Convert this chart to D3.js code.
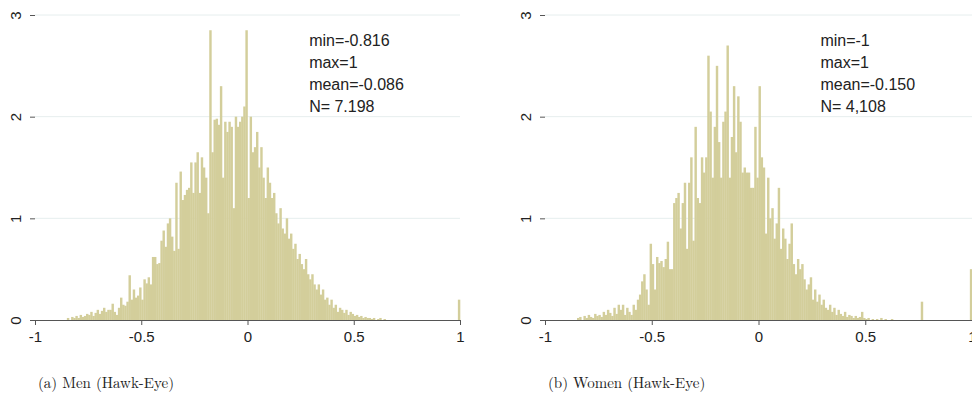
<!DOCTYPE html>
<html><head><meta charset="utf-8">
<script src="https://cdn.jsdelivr.net/npm/d3@7"></script>
<style>body{margin:0;background:#fff}</style></head>
<body><svg id="c" width="972" height="403"></svg>
<script>
// bins of width 0.01, starting at -0.85
const binStart = -0.85;
const binWidth = 0.01;
const menValues = [
  0.02,0,0.03,0.02,0.04,0.02,0.05,0.03,0.04,0.06,
  0.05,0.08,0.04,0.07,0.1,0.06,0.09,0.12,0.08,0.1,
  0.1,0.16,0.08,0.05,0.12,0.22,0.15,0.14,0.18,0.44,
  0.2,0.3,0.22,0.24,0.32,0.2,0.4,0.36,0.42,0.35,
  0.62,0.62,0.55,0.56,0.78,0.88,0.72,0.95,1.0,0.82,
  0.68,1.35,0.7,1.46,1.18,1.23,1.28,1.3,1.55,1.25,
  1.55,1.65,1.25,1.6,1.5,1.4,1.05,2.85,1.65,1.97,
  1.98,1.92,2.3,1.4,1.95,1.85,1.95,1.9,1.1,2.0,
  1.9,1.95,2.0,2.1,2.85,1.2,2.0,1.65,1.7,1.85,
  1.5,1.7,1.4,1.2,1.5,1.35,1.2,1.25,1.05,0.95,
  1.1,0.9,0.85,1.0,0.8,0.85,0.7,0.75,0.6,0.65,
  0.55,0.5,0.6,0.45,0.4,0.45,0.35,0.3,0.35,0.25,
  0.3,0.2,0.22,0.15,0.2,0.12,0.15,0.08,0.12,0.1,
  0.07,0.1,0.05,0.08,0.06,0.04,0.05,0.03,0.04,0.02,
  0.03,0.02,0.02,0.01,0.02,0,0.01,0.02,0,0.01
];
const womenValues = [
  0.02,0.03,0,0.04,0.02,0.05,0.03,0.02,0.06,0.04,
  0.05,0.03,0.08,0.05,0.1,0.07,0.04,0.12,0.06,0.15,
  0.1,0.15,0.05,0.12,0.08,0.05,0.15,0.1,0.2,0.25,
  0.38,0.45,0.3,0.15,0.75,0.55,0.3,0.62,0.56,0.58,
  0.52,0.6,0.77,0.5,0.5,1.15,1.2,1.25,0.9,1.15,
  1.35,0.7,1.35,1.6,0.78,1.9,1.2,1.15,1.6,1.45,
  1.6,2.6,2.05,1.4,1.9,2.5,1.75,1.4,1.95,2.05,
  2.7,1.4,1.8,2.3,1.65,2.2,1.95,1.45,1.5,1.45,
  1.45,1.3,1.3,1.9,1.4,2.3,1.6,1.5,0.85,1.4,
  1.0,1.1,0.8,0.95,1.3,0.7,0.9,0.8,0.6,0.75,
  0.95,0.55,0.45,0.6,0.5,0.55,0.4,0.3,0.35,0.42,
  0.2,0.3,0.18,0.25,0.15,0.2,0.12,0.1,0.15,0.08,
  0.12,0.05,0.1,0.06,0.04,0.08,0.03,0.05,0.04,0.02,
  0.04,0.02,0.03,0.08,0.02,0.01,0.02,0,0.01,0,
  0.01,0,0.02,0,0.01,0,0,0.01,0,0,
  0,0,0,0,0,0,0,0,0,0,
  0,0.18
];
// extra bins at the right edge (x = 0.99)
const menEdge = 0.2;
const womenEdge = 0.5;
const xTicks = [-1, -0.5, 0, 0.5, 1];
const yTicks = [0, 1, 2, 3];
const panels = [
  {values: menValues, edge: menEdge, left: 35, right: 460,
   notes: ["min=-0.816", "max=1", "mean=-0.086", "N= 7.198"], caption: "(a) Men (Hawk-Eye)"},
  {values: womenValues, edge: womenEdge, left: 545, right: 972,
   notes: ["min=-1", "max=1", "mean=-0.150", "N= 4,108"], caption: "(b) Women (Hawk-Eye)"}
];
const font = 'Liberation Sans, Arial, sans-serif';

const svg = d3.select('#c');
panels.forEach(p => {
  const x = d3.scaleLinear().domain([-1, 1]).range([p.left, p.right]);
  const y = d3.scaleLinear().domain([0, 3]).range([320, 15]);
  const g = svg.append('g');

  g.selectAll('line.grid').data(yTicks.slice(1)).join('line')
    .attr('x1', p.left).attr('x2', p.right)
    .attr('y1', d => y(d)).attr('y2', d => y(d))
    .attr('stroke', '#e6eeee').attr('stroke-width', 1);

  const bins = p.values.map((v, i) => ({x0: binStart + i * binWidth, v}));
  bins.push({x0: 1 - binWidth, v: p.edge});
  g.selectAll('rect').data(bins).join('rect')
    .attr('x', d => x(d.x0))
    .attr('width', d => x(d.x0 + binWidth) - x(d.x0) + 0.3)
    .attr('y', d => y(d.v))
    .attr('height', d => y(0) - y(d.v))
    .attr('fill', '#d3ce9b');

  const xa = g.append('g').attr('transform', 'translate(0,320)')
    .call(d3.axisBottom(x).tickValues(xTicks).tickSize(5).tickFormat(d => String(d)));
  xa.select('.domain').attr('stroke', '#555');
  xa.selectAll('line').attr('stroke', '#555');
  xa.selectAll('text').attr('font-family', font).attr('font-size', 15).attr('fill', '#222').attr('dy', '0.9em');

  const ya = g.append('g').attr('transform', `translate(${p.left},0)`)
    .call(d3.axisLeft(y).tickValues(yTicks).tickSize(5).tickFormat(d => String(d)));
  ya.select('.domain').remove();
  ya.selectAll('line').attr('stroke', '#555');
  ya.selectAll('.tick text').attr('font-family', font).attr('font-size', 15).attr('fill', '#222')
    .attr('text-anchor', 'middle').attr('transform', 'rotate(-90)')
    .attr('x', 0).attr('y', -14).attr('dy', '0');

  g.selectAll('text.note').data(p.notes).join('text')
    .attr('x', x(0.29)).attr('y', (d, i) => 46 + i * 22)
    .attr('font-family', font).attr('font-size', 16).attr('fill', '#222')
    .text(d => d);

  svg.append('text').attr('x', p.left + 3).attr('y', 388)
    .attr('font-family', 'Latin Modern Roman, DejaVu Serif, serif').attr('font-size', 15).attr('fill', '#222')
    .text(p.caption);
});
</script></body></html>
